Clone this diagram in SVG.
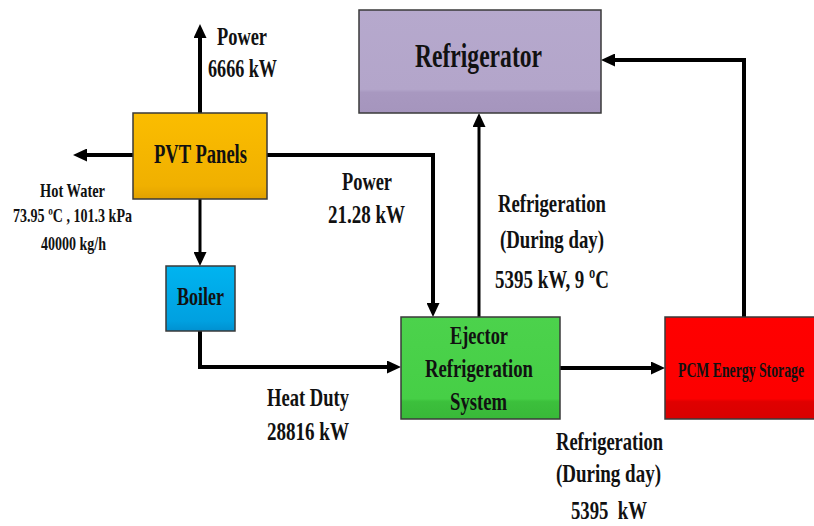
<svg xmlns="http://www.w3.org/2000/svg" width="814" height="526" viewBox="0 0 814 526">
<style>
.box{stroke:#3a3a3a;stroke-width:1.5}
.t{font-family:"Liberation Serif","Times New Roman",serif;font-weight:bold;fill:#111}
.c{fill:none;stroke:#000;stroke-width:4;stroke-linejoin:miter;marker-end:url(#ah)}
.thin{stroke-width:3}
</style>
<defs>
<marker id="ah" markerUnits="userSpaceOnUse" markerWidth="14" markerHeight="13" refX="6" refY="6.5" orient="auto">
<path d="M0,0 L14,6.5 L0,13 z" fill="#000"/>
</marker>
<linearGradient id="gPVT" x1="0" y1="0" x2="0" y2="1">
<stop offset="0" stop-color="#fbbd00"/><stop offset="0.85" stop-color="#f0b000"/><stop offset="1" stop-color="#e0a000"/>
</linearGradient>
<linearGradient id="gBoil" x1="0" y1="0" x2="0" y2="1">
<stop offset="0" stop-color="#00b4f0"/><stop offset="0.85" stop-color="#00a0e0"/><stop offset="1" stop-color="#0090d0"/>
</linearGradient>
<linearGradient id="gRef" x1="0" y1="0" x2="0" y2="1">
<stop offset="0" stop-color="#b6a9cd"/><stop offset="0.77" stop-color="#b3a5ca"/><stop offset="0.8" stop-color="#a898c0"/><stop offset="1" stop-color="#a595bd"/>
</linearGradient>
<linearGradient id="gEj" x1="0" y1="0" x2="0" y2="1">
<stop offset="0" stop-color="#4cd24c"/><stop offset="0.8" stop-color="#46cf46"/><stop offset="0.83" stop-color="#3cc03c"/><stop offset="1" stop-color="#38b838"/>
</linearGradient>
<linearGradient id="gPCM" x1="0" y1="0" x2="0" y2="1">
<stop offset="0" stop-color="#ff0000"/><stop offset="0.8" stop-color="#fc0000"/><stop offset="0.83" stop-color="#e00000"/><stop offset="1" stop-color="#d80000"/>
</linearGradient>
</defs>
<rect width="814" height="526" fill="#fff"/>

<g id="connectors">
<path class="c" d="M200,113 V32"/>
<path class="c" d="M133,155 H81"/>
<path class="c thin" d="M200,199 V258"/>
<path class="c" d="M267,155 H433 V309"/>
<path class="c" d="M200,331 V367 H393"/>
<path class="c thin" d="M479,317 V121"/>
<path class="c" d="M560,368 H657"/>
<path class="c" d="M744,317 V60 H609"/>
</g>

<g id="pvt">
<rect class="box" x="133" y="113" width="134" height="86" fill="url(#gPVT)"/>
<text class="t" x="154" y="163" font-size="27" textLength="93" lengthAdjust="spacingAndGlyphs">PVT Panels</text>
</g>
<g id="boiler">
<rect class="box" x="166" y="266" width="69" height="65" fill="url(#gBoil)"/>
<text class="t" x="177" y="305" font-size="26" textLength="47" lengthAdjust="spacingAndGlyphs">Boiler</text>
</g>
<g id="refrigerator">
<rect class="box" x="359" y="10" width="242" height="103" fill="url(#gRef)"/>
<text class="t" x="415" y="67" font-size="34" textLength="127" lengthAdjust="spacingAndGlyphs">Refrigerator</text>
</g>
<g id="ejector">
<rect class="box" x="401" y="317" width="159" height="102" fill="url(#gEj)"/>
<text class="t" x="450" y="344" font-size="26" textLength="58" lengthAdjust="spacingAndGlyphs">Ejector</text>
<text class="t" x="425" y="377" font-size="26" textLength="108" lengthAdjust="spacingAndGlyphs">Refrigeration</text>
<text class="t" x="450" y="410" font-size="26" textLength="57" lengthAdjust="spacingAndGlyphs">System</text>
</g>
<g id="pcm">
<rect class="box" x="665" y="317" width="152" height="102" fill="url(#gPCM)"/>
<text class="t" x="678" y="377" font-size="21" textLength="126" lengthAdjust="spacingAndGlyphs">PCM Energy Storage</text>
</g>

<g id="labels">
<text class="t" x="217" y="45" font-size="26" textLength="50" lengthAdjust="spacingAndGlyphs">Power</text>
<text class="t" x="208" y="77" font-size="26" textLength="69" lengthAdjust="spacingAndGlyphs">6666 kW</text>
<text class="t" x="40" y="197" font-size="19" textLength="65" lengthAdjust="spacingAndGlyphs">Hot Water</text>
<text class="t" x="13" y="222" font-size="19" textLength="119" lengthAdjust="spacingAndGlyphs">73.95 ºC , 101.3 kPa</text>
<text class="t" x="41" y="250" font-size="19" textLength="65" lengthAdjust="spacingAndGlyphs">40000 kg/h</text>
<text class="t" x="342" y="190" font-size="26" textLength="50" lengthAdjust="spacingAndGlyphs">Power</text>
<text class="t" x="328" y="223" font-size="26" textLength="77" lengthAdjust="spacingAndGlyphs">21.28 kW</text>
<text class="t" x="498" y="212" font-size="26" textLength="108" lengthAdjust="spacingAndGlyphs">Refrigeration</text>
<text class="t" x="500" y="248" font-size="26" textLength="104" lengthAdjust="spacingAndGlyphs">(During day)</text>
<text class="t" x="495" y="288" font-size="26" textLength="114" lengthAdjust="spacingAndGlyphs">5395 kW, 9 ºC</text>
<text class="t" x="267" y="406" font-size="26" textLength="82" lengthAdjust="spacingAndGlyphs">Heat Duty</text>
<text class="t" x="267" y="440" font-size="26" textLength="82" lengthAdjust="spacingAndGlyphs">28816 kW</text>
<text class="t" x="556" y="450" font-size="26" textLength="107" lengthAdjust="spacingAndGlyphs">Refrigeration</text>
<text class="t" x="556" y="482" font-size="26" textLength="105" lengthAdjust="spacingAndGlyphs">(During day)</text>
<text class="t" x="571" y="519" font-size="26" textLength="76" lengthAdjust="spacingAndGlyphs" xml:space="preserve">5395  kW</text>
</g>
</svg>
